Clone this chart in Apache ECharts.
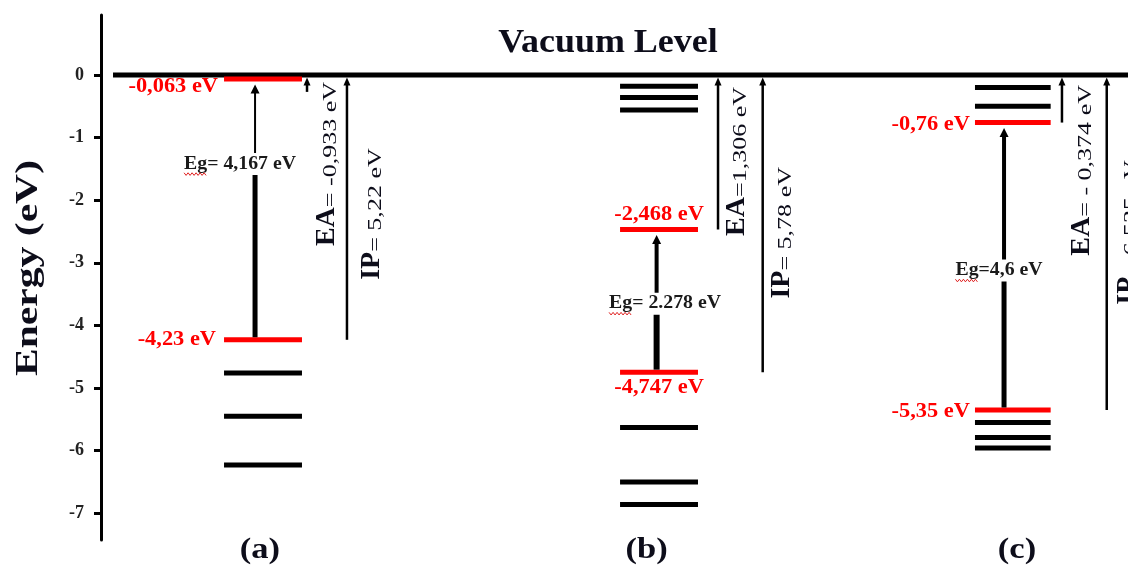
<!DOCTYPE html>
<html>
<head>
<meta charset="utf-8">
<script src="https://cdn.jsdelivr.net/npm/echarts@6/dist/echarts.min.js"></script>
<style>
  html, body { margin: 0; padding: 0; background: #fff; }
  #chart { width: 1128px; height: 567px; }
</style>
</head>
<body>
<div id="chart"></div>
<script>
// Frontier orbital energy diagram of three compounds, energies in eV (vacuum level = 0)
const panelTags = ['(a)', '(b)', '(c)'];
const lumo = [-0.063, -2.468, -0.76];
const homo = [-4.23, -4.747, -5.35];
const gapLabels = ['Eg= 4,167 eV', 'Eg= 2.278 eV', 'Eg=4,6 eV'];
const eaLabels = ['EA= -0,933 eV', 'EA=1,306 eV', 'EA= - 0,374 eV'];
const ipLabels = ['IP= 5,22 eV', 'IP= 5,78 eV', 'IP= 6,535 eV'];
const eaArrowEnds = [-0.27, -2.468, -0.76];
const upperLevels = [[], [-0.18, -0.36, -0.56], [-0.20, -0.50]];
const lowerLevels = [[-4.76, -5.45, -6.23], [-5.63, -6.50, -6.86], [-5.55, -5.79, -5.96]];
const yTicks = [0, -1, -2, -3, -4, -5, -6, -7];

const SERIF = '"Liberation Serif", "Times New Roman", serif';
const RED = '#ff0000';
const INK = '#0d0d1a';
const LEVEL_W = 5;
const VAC_W = 5;

// horizontal placement of each column, in x-axis units (0..100 across the plot)
const layout = [
  { levelL: 11.98, levelR: 19.57, eg: 15.0, egLabel: 13.54, egFrac: 0.685, shaftTop: 2, shaftBottom: 5,
    ea: 20.06, ip: 23.95, eaText: 23.37, ipText: 27.75, eaTop: -0.11, ipTop: -1.17, tag: 15.48,
    lumoLbl: { pos: 'left', dx: -6, dy: 8 }, homoLbl: { pos: 'left', dx: -8, dy: 0 } },
  { levelL: 50.54, levelR: 58.13, eg: 54.1, egLabel: 54.92, egFrac: 0.49, shaftTop: 4, shaftBottom: 6,
    ea: 60.08, ip: 64.43, eaText: 63.29, ipText: 67.67, eaTop: -0.19, ipTop: -1.47, tag: 53.12,
    lumoLbl: { pos: 'center', dx: 0, dy: -15 }, homoLbl: { pos: 'center', dx: 0, dy: 16 } },
  { levelL: 85.1, levelR: 92.47, eg: 87.93, egLabel: 87.44, egFrac: 0.49, shaftTop: 4, shaftBottom: 5,
    ea: 93.57, ip: 97.93, eaText: 96.88, ipText: 101.36, eaTop: -0.16, ipTop: -1.36, tag: 89.19,
    lumoLbl: { pos: 'left', dx: -5, dy: 2 }, homoLbl: { pos: 'left', dx: -5, dy: 2 } }
];

const fmtEnergy = v => String(v).replace('.', ',') + ' eV';

const measureCtx = document.createElement('canvas').getContext('2d');
function textWidth(str, font) { measureCtx.font = font; return measureCtx.measureText(str).width; }

const levelData = [];
for (let p = 0; p < 3; p++) {
  upperLevels[p].forEach(e => levelData.push([p, e, 0]));
  lowerLevels[p].forEach(e => levelData.push([p, e, 0]));
  levelData.push([p, lumo[p], 1]);
  levelData.push([p, homo[p], 1]);
}
const panelData = panelTags.map((t, p) => [p, homo[p], lumo[p], eaArrowEnds[p]]);

function renderVacuum(params, api) {
  const a = api.coord([1.17, api.value(0)]);
  const b = api.coord([100, api.value(0)]);
  return { type: 'rect', shape: { x: a[0], y: a[1] - VAC_W / 2, width: b[0] - a[0] + 2, height: VAC_W },
           style: { fill: '#000' } };
}

function renderLevel(params, api) {
  const L = layout[api.value(0)];
  const e = api.value(1);
  const a = api.coord([L.levelL, e]);
  const b = api.coord([L.levelR, e]);
  return { type: 'rect', shape: { x: a[0], y: a[1] - LEVEL_W / 2, width: b[0] - a[0], height: LEVEL_W },
           style: { fill: api.value(2) ? RED : '#000' } };
}

const seg = (x1, y1, x2, y2, w) => ({ type: 'line', shape: { x1, y1, x2, y2 }, style: { stroke: '#000', lineWidth: w } });
const head = (x, y, w, h) => ({ type: 'polygon', shape: { points: [[x, y], [x - w / 2, y + h], [x + w / 2, y + h]] }, style: { fill: '#000' } });

function energyLabel(L, spec, e, api) {
  const y = api.coord([0, e])[1] + spec.dy;
  const font = 'bold 20px ' + SERIF;
  if (spec.pos === 'left') {
    const x = api.coord([L.levelL, 0])[0] + spec.dx;
    return { type: 'text', x, y, scaleX: 1.12, style: { text: fmtEnergy(e), font, fill: RED, align: 'right', verticalAlign: 'middle' } };
  }
  const x = (api.coord([L.levelL, 0])[0] + api.coord([L.levelR, 0])[0]) / 2 + spec.dx;
  return { type: 'text', x, y, scaleX: 1.12, style: { text: fmtEnergy(e), font, fill: RED, align: 'center', verticalAlign: 'middle' } };
}

// vertical label reading bottom-to-top: large bold prefix, stretched value text above it
function verticalLabel(label, xRight, yTop) {
  const idx = label.indexOf('=');
  const prefix = label.slice(0, idx);
  const rest = label.slice(idx);
  const restFont = '19px ' + SERIF;
  const preFont = 'bold 28px ' + SERIF;
  const stretch = 1.37;
  const restLen = textWidth(rest, restFont) * stretch;
  return [
    { type: 'text', x: xRight, y: yTop, rotation: Math.PI / 2, scaleX: stretch,
      style: { text: rest, font: restFont, fill: INK, align: 'right', verticalAlign: 'bottom' } },
    { type: 'text', x: xRight, y: yTop + restLen, rotation: Math.PI / 2,
      style: { text: prefix, font: preFont, fill: INK, align: 'right', verticalAlign: 'bottom' } }
  ];
}

function renderPanel(params, api) {
  const p = api.value(0);
  const eH = api.value(1), eL = api.value(2), eEA = api.value(3);
  const L = layout[p];
  const X = u => api.coord([u, 0])[0];
  const Y = e => api.coord([0, e])[1];
  const children = [];
  const yVac = Y(0) + VAC_W / 2;

  // band-gap arrow from HOMO up to LUMO
  const xe = X(L.eg);
  const yBottom = Y(eH) - LEVEL_W / 2;
  const yTip = Y(eL) + LEVEL_W / 2 + 3;
  const yLabel = yBottom - L.egFrac * (yBottom - yTip);
  children.push(seg(xe, yBottom, xe, yLabel, L.shaftBottom));
  children.push(seg(xe, yLabel, xe, yTip + 8, L.shaftTop));
  children.push(head(xe, yTip, 9, 9));

  const egFont = 'bold 18px ' + SERIF;
  const egScale = 1.1;
  const xl = X(L.egLabel);
  children.push({ type: 'text', x: xl, y: yLabel, scaleX: egScale,
    style: { text: gapLabels[p], font: egFont, fill: '#1a1a1a', align: 'center', verticalAlign: 'middle',
             backgroundColor: '#fff', padding: [2, 1] } });
  // wavy underline beneath "Eg"
  const wAll = textWidth(gapLabels[p], egFont) * egScale;
  const wEg = textWidth('Eg', egFont) * egScale;
  const x0 = xl - wAll / 2;
  const pts = [];
  for (let i = 0, x = x0; x <= x0 + wEg; i++, x += 2) pts.push([x, yLabel + 10 + (i % 2 ? 1.3 : -1.3)]);
  children.push({ type: 'polyline', shape: { points: pts }, style: { stroke: '#e02020', lineWidth: 1, fill: null } });

  // electron affinity and ionisation potential arrows up to the vacuum level
  const xa = X(L.ea);
  children.push(seg(xa, Y(eEA), xa, yVac + 7, 2.5));
  children.push(head(xa, yVac, 7, 8));
  const xi = X(L.ip);
  children.push(seg(xi, Y(eH), xi, yVac + 7, 2.5));
  children.push(head(xi, yVac, 7, 8));

  children.push(...verticalLabel(eaLabels[p], X(L.eaText), Y(L.eaTop)));
  children.push(...verticalLabel(ipLabels[p], X(L.ipText), Y(L.ipTop)));

  // energy values of the frontier levels
  children.push(energyLabel(L, L.lumoLbl, eL, api));
  children.push(energyLabel(L, L.homoLbl, eH, api));

  // column tag under the axis
  children.push({ type: 'text', x: X(L.tag), y: Y(-7.6), scaleX: 1.15,
    style: { text: panelTags[p], font: 'bold 30px ' + SERIF, fill: INK, align: 'center', verticalAlign: 'middle' } });

  return { type: 'group', children };
}

const chart = echarts.init(document.getElementById('chart'), null, { renderer: 'canvas' });
chart.setOption({
  animation: false,
  backgroundColor: '#fff',
  grid: { left: 101, right: 0, top: 14.9, bottom: 26.9, outerBoundsMode: 'none' },
  xAxis: { type: 'value', min: 0, max: 100, show: false },
  yAxis: {
    type: 'value', min: -7.43, max: 0.96,
    axisLine: { show: true, lineStyle: { color: '#000', width: 3 } },
    axisTick: { show: true, length: 7, customValues: yTicks, lineStyle: { color: '#000', width: 3 } },
    axisLabel: { customValues: yTicks, margin: 17, fontFamily: SERIF, fontWeight: 'bold', fontSize: 18,
                 color: '#222', formatter: v => String(v) },
    splitLine: { show: false }
  },
  graphic: [
    { type: 'text', x: 608, y: 43, scaleX: 1.09,
      style: { text: 'Vacuum Level', font: 'bold 33px ' + SERIF, fill: INK, align: 'center', verticalAlign: 'middle' } },
    // axis title, set vertically and stretched along its length
    { type: 'text', x: 29, y: 268, rotation: Math.PI / 2, scaleX: 1.3,
      style: { text: 'Energy (eV)', font: 'bold 32px ' + SERIF, fill: INK, align: 'center', verticalAlign: 'middle' } }
  ],
  series: [
    { type: 'custom', coordinateSystem: 'cartesian2d', renderItem: renderVacuum, data: [[0]], encode: { y: 0 }, silent: true },
    { type: 'custom', coordinateSystem: 'cartesian2d', renderItem: renderLevel, data: levelData, encode: { x: 0, y: 1 }, silent: true },
    { type: 'custom', coordinateSystem: 'cartesian2d', renderItem: renderPanel, data: panelData, encode: { x: 0, y: 1 }, silent: true }
  ]
});
</script>
</body>
</html>
